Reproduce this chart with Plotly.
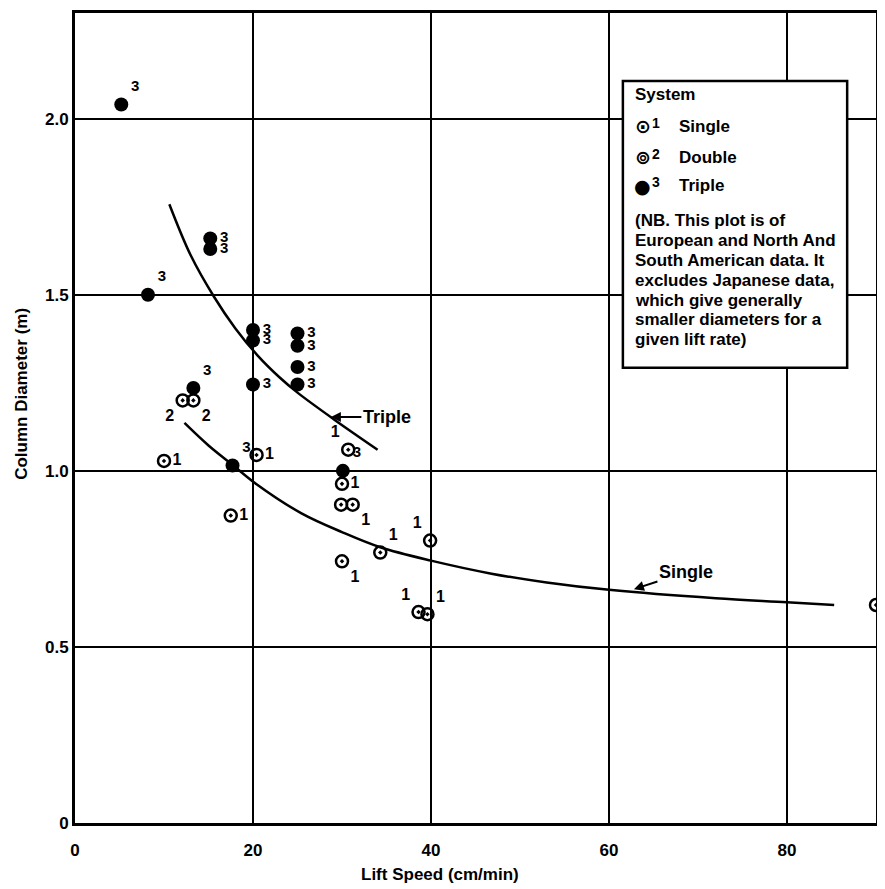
import plotly.graph_objects as go

# ---- data ----
single_x = [10.0, 20.4, 17.5, 30.7, 30.0, 29.9, 31.2, 30.0, 34.3, 39.9, 38.6, 39.6, 90.0]
single_y = [1.028, 1.045, 0.873, 1.06, 0.963, 0.904, 0.904, 0.743, 0.768, 0.802, 0.599, 0.593, 0.619]
single_lbl = ["1", "1", "1", "1", "1", "", "1", "1", "1", "1", "1", "1", "1"]

double_x = [12.1, 13.3]
double_y = [1.20, 1.20]
double_lbl = ["2", "2"]

triple_x = [5.2, 8.2, 15.2, 15.2, 20.0, 20.0, 20.0, 25.0, 25.0, 25.0, 25.0, 13.3, 17.7, 30.1]
triple_y = [2.04, 1.50, 1.66, 1.63, 1.40, 1.37, 1.245, 1.39, 1.355, 1.295, 1.245, 1.235, 1.015, 1.00]
triple_lbl = ["3"] * 14

triple_curve_x = [10.6, 13.0, 15.6, 18.0, 20.5, 23.0, 25.0, 29.1, 34.0]
triple_curve_y = [1.757, 1.612, 1.495, 1.405, 1.328, 1.265, 1.222, 1.146, 1.06]

single_curve_x = [12.3, 15.0, 17.7, 20.4, 25.4, 30.0, 34.3, 40.0, 46.8, 53.0, 60.0, 72.0, 80.0, 85.3]
single_curve_y = [1.136, 1.072, 1.017, 0.962, 0.88, 0.826, 0.783, 0.745, 0.708, 0.683, 0.662, 0.638, 0.627, 0.619]

x_ticks = [0, 20, 40, 60, 80]
y_ticks = [0, 0.5, 1.0, 1.5, 2.0]
y_ticktext = ["0", "0.5", "1.0", "1.5", "2.0"]

nb_lines = ["(NB. This plot is of", "European and North And", "South American data. It",
            "excludes Japanese data,", "which give generally", "smaller diameters for a",
            "given lift rate)"]

# ---- label placement (style) ----
single_pos = ["middle right", "middle right", "middle right", "top left", "middle right", "middle right",
              "bottom right", "bottom right", "top right", "top left", "top left", "top right", "middle right"]
double_pos = ["bottom left", "bottom right"]
triple_pos = ["top right", "top right", "middle right", "middle right", "middle right", "middle right",
              "middle right", "middle right", "middle right", "middle right", "middle right",
              "top right", "top right", "top right"]

FONT = "Liberation Sans, Arial, sans-serif"
lblfont = dict(family=FONT, size=16, color="black", weight="bold")
tlblfont = dict(family=FONT, size=15, color="black", weight="bold")

fig = go.Figure()
fig.add_trace(go.Scatter(x=triple_curve_x, y=triple_curve_y, mode="lines", line_shape="spline",
                         line=dict(color="black", width=2.5), hoverinfo="skip"))
fig.add_trace(go.Scatter(x=single_curve_x, y=single_curve_y, mode="lines", line_shape="spline",
                         line=dict(color="black", width=2.5), hoverinfo="skip"))
fig.add_trace(go.Scatter(x=single_x, y=single_y, mode="markers+text", text=single_lbl,
                         textposition=single_pos, textfont=lblfont, cliponaxis=False,
                         marker=dict(symbol="circle-open-dot", size=12, color="black",
                                     line=dict(color="black", width=2.5))))
fig.add_trace(go.Scatter(x=double_x, y=double_y, mode="markers+text", text=double_lbl,
                         textposition=double_pos, textfont=lblfont, cliponaxis=False,
                         marker=dict(symbol="circle-open-dot", size=12, color="black",
                                     line=dict(color="black", width=2.5))))
fig.add_trace(go.Scatter(x=triple_x, y=triple_y, mode="markers+text", text=triple_lbl,
                         textposition=triple_pos, textfont=tlblfont, cliponaxis=False,
                         marker=dict(symbol="circle", size=14, color="black")))

# legend box
fig.add_shape(type="rect", xref="paper", yref="paper", x0=0.684, x1=0.964, y0=0.562, y1=0.916,
              line=dict(color="black", width=2.5), fillcolor="white", layer="above")

bold = dict(family=FONT, size=17, color="black", weight="bold")
fig.add_annotation(xref="paper", yref="paper", x=0.697, y=0.899, text="System", showarrow=False,
                   xanchor="left", yanchor="middle", font=bold)
sym_font = dict(family="DejaVu Sans", size=19, color="black", weight="bold")
items = [("⊙", "1", "Single", 0.860), ("⊚", "2", "Double", 0.822), ("●", "3", "Triple", 0.787)]
for sym, num, name, yy in items:
    fig.add_annotation(xref="paper", yref="paper", x=0.709, y=yy, text=sym, showarrow=False,
                       xanchor="center", yanchor="middle", font=sym_font)
    fig.add_annotation(xref="paper", yref="paper", x=0.718, y=yy + 0.004, text=num, showarrow=False,
                       xanchor="left", yanchor="middle", font=dict(family=FONT, size=14, color="black", weight="bold"))
    fig.add_annotation(xref="paper", yref="paper", x=0.752, y=yy, text=name, showarrow=False,
                       xanchor="left", yanchor="middle", font=bold)
for i, line in enumerate(nb_lines):
    fig.add_annotation(xref="paper", yref="paper", x=0.697, y=0.744 - i * 0.0246, text=line,
                       showarrow=False, xanchor="left", yanchor="middle", align="left", font=bold)

# curve labels
curvefont = dict(family=FONT, size=18, color="black", weight="bold")
fig.add_annotation(x=28.75, y=1.153, text="Triple", showarrow=True, ax=56, ay=0,
                   arrowhead=2, arrowsize=1, arrowwidth=2, arrowcolor="black", font=curvefont)
fig.add_annotation(x=62.8, y=0.664, text="Single", showarrow=True, ax=52, ay=-17,
                   arrowhead=2, arrowsize=1, arrowwidth=2, arrowcolor="black", font=curvefont)

# axis titles
titlefont = dict(family=FONT, size=17, color="black", weight="bold")
fig.add_annotation(xref="paper", yref="paper", x=0.456, y=-0.064, text="Lift Speed (cm/min)",
                   showarrow=False, xanchor="center", yanchor="middle", font=titlefont)
fig.add_annotation(xref="paper", yref="paper", x=-0.066, y=0.530, text="Column Diameter (m)",
                   showarrow=False, xanchor="center", yanchor="middle", textangle=-90, font=titlefont)

tickfont = dict(family=FONT, size=17, color="black", weight="bold")
# page body has an 8px default margin; figure size/margins compensate for it
fig.update_layout(
    width=877, height=881,
    margin=dict(l=67, r=9, t=2, b=66),
    paper_bgcolor="white", plot_bgcolor="white",
    showlegend=False,
    xaxis=dict(range=[0, 90], tickvals=x_ticks, showgrid=True, gridcolor="black", gridwidth=2,
               showline=True, linecolor="black", linewidth=3, mirror=True, zeroline=False,
               ticks="outside", ticklen=10, tickcolor="rgba(0,0,0,0)", tickfont=tickfont),
    yaxis=dict(range=[0, 2.3], tickvals=y_ticks, ticktext=y_ticktext, showgrid=True,
               gridcolor="black", gridwidth=2, showline=True, linecolor="black", linewidth=3,
               mirror=True, zeroline=False, ticks="", tickfont=tickfont),
)

fig.write_html("out.html")
